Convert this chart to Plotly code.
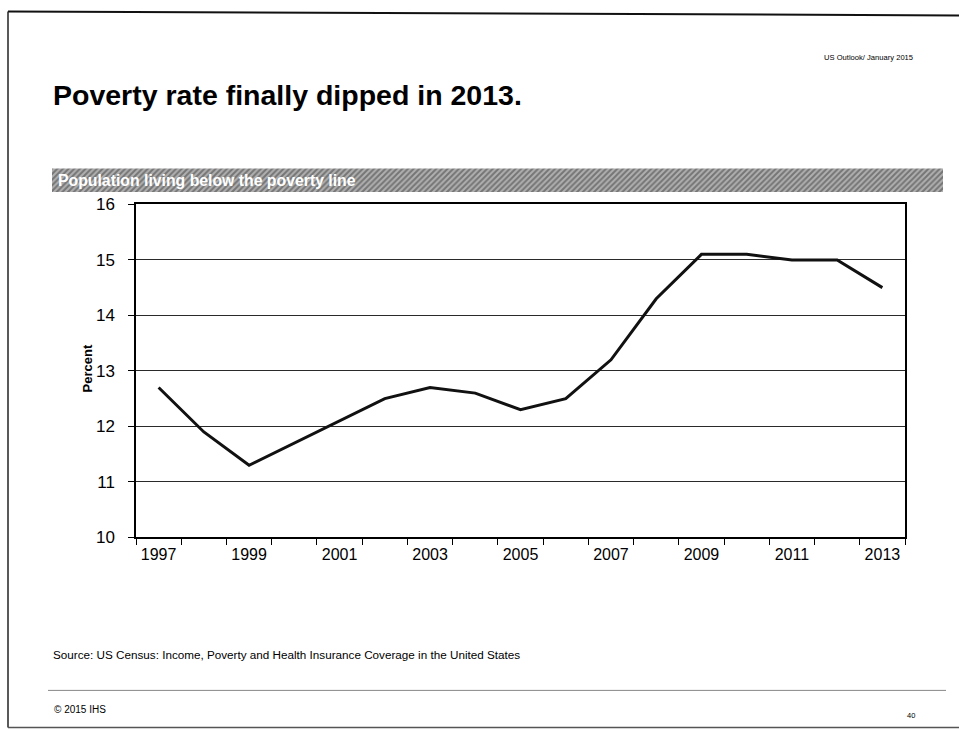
import plotly.graph_objects as go

years = list(range(1997, 2014))
poverty_rate = [12.7, 11.9, 11.3, 11.7, 12.1, 12.5, 12.7, 12.6, 12.3, 12.5,
                13.2, 14.3, 15.1, 15.1, 15.0, 15.0, 14.5]
x_tick_years = [1997, 1999, 2001, 2003, 2005, 2007, 2009, 2011, 2013]
y_ticks = [10, 11, 12, 13, 14, 15, 16]

W, H = 959, 731
FONT = "Liberation Sans, Arial, sans-serif"

# observed vertical mapping of the capture: shown_y = 8.6 + 0.974 * figure_y
def px(x):
    return x / W

def py(y):
    yf = (y - 8.6) / 0.974
    return (H - yf) / H

fig = go.Figure()

fig.add_trace(go.Scatter(
    x=years, y=poverty_rate, mode="lines",
    line=dict(color="#111111", width=3),
    showlegend=False, hoverinfo="x+y",
))

fig.add_trace(go.Bar(
    x=[1], y=[0], orientation="h", xaxis="x2", yaxis="y2", width=1,
    marker=dict(color="#b0b0b0", line_width=0,
                pattern=dict(shape="/", fgcolor="#3a3a3a", size=4, solidity=0.5)),
    showlegend=False, hoverinfo="skip",
))

fig.update_layout(
    width=W, height=H,
    margin=dict(l=0, r=0, t=0, b=0),
    paper_bgcolor="white", plot_bgcolor="white",
    font=dict(family=FONT, color="#000000"),
    xaxis=dict(
        domain=[px(136), px(905)],
        range=[1996.5, 2013.5],
        tickmode="array", tickvals=x_tick_years,
        ticks="", showgrid=False, zeroline=False,
        showline=True, linecolor="#000000", linewidth=1.5, mirror=True,
        tickfont=dict(size=16, family=FONT, color="#000000"),
        ticklabelstandoff=2,
        minor=dict(tick0=1996.5, dtick=1, ticks="outside", ticklen=6,
                   tickcolor="#000000", tickwidth=1, showgrid=False),
    ),
    yaxis=dict(
        domain=[py(537), py(204)],
        range=[10, 16],
        tickmode="array", tickvals=y_ticks,
        ticks="outside", ticklen=6, tickcolor="#000000", tickwidth=1,
        showgrid=True, gridcolor="#2a2a2a", gridwidth=1.2,
        zeroline=False,
        showline=True, linecolor="#000000", linewidth=1.5, mirror=True,
        tickfont=dict(size=17, family=FONT, color="#000000"),
        ticklabelstandoff=10,
    ),
    xaxis2=dict(domain=[px(52), px(943)], range=[0, 1], visible=False,
                fixedrange=True, anchor="y2"),
    yaxis2=dict(domain=[py(192), py(168)], range=[-0.5, 0.5], visible=False,
                fixedrange=True, anchor="x2"),
    bargap=0,
)

annotations = [
    dict(text="US Outlook/ January 2015", x=px(822), y=py(57),
         xanchor="left", yanchor="middle", font=dict(size=7.6, family=FONT)),
    dict(text="<b>Poverty rate finally dipped in 2013.</b>", x=px(51), y=py(95),
         xanchor="left", yanchor="middle", font=dict(size=28.5, family=FONT)),
    dict(text="<b>Population living below the poverty line</b>", x=px(56), y=py(180),
         xanchor="left", yanchor="middle", font=dict(size=15.8, family=FONT, color="white")),
    dict(text="<b>Percent</b>", x=px(87), y=py(368), textangle=-90,
         xanchor="center", yanchor="middle", font=dict(size=13, family=FONT)),
    dict(text="Source: US Census: Income, Poverty and Health Insurance Coverage in the United States",
         x=px(51), y=py(654), xanchor="left", yanchor="middle", font=dict(size=11.7, family=FONT)),
    dict(text="© 2015 IHS", x=px(52), y=py(709), xanchor="left", yanchor="middle",
         font=dict(size=10, family=FONT)),
    dict(text="40", x=px(905), y=py(715), xanchor="left", yanchor="middle",
         font=dict(size=7.5, family=FONT)),
]
for a in annotations:
    a.update(xref="paper", yref="paper", showarrow=False)
fig.update_layout(annotations=annotations)

shapes = [
    dict(type="line", x0=px(8), x1=1, y0=py(11), y1=py(15), line=dict(color="#111", width=2)),
    dict(type="line", x0=px(8), x1=px(8), y0=py(11), y1=py(727), line=dict(color="#222", width=1.5)),
    dict(type="line", x0=px(8), x1=1, y0=py(727), y1=py(727), line=dict(color="#555", width=1.5)),
    dict(type="line", x0=px(48), x1=px(946), y0=py(690), y1=py(690), line=dict(color="#888", width=1)),
]
for s in shapes:
    s.update(xref="paper", yref="paper")
fig.update_layout(shapes=shapes)

fig.write_html("out.html")
